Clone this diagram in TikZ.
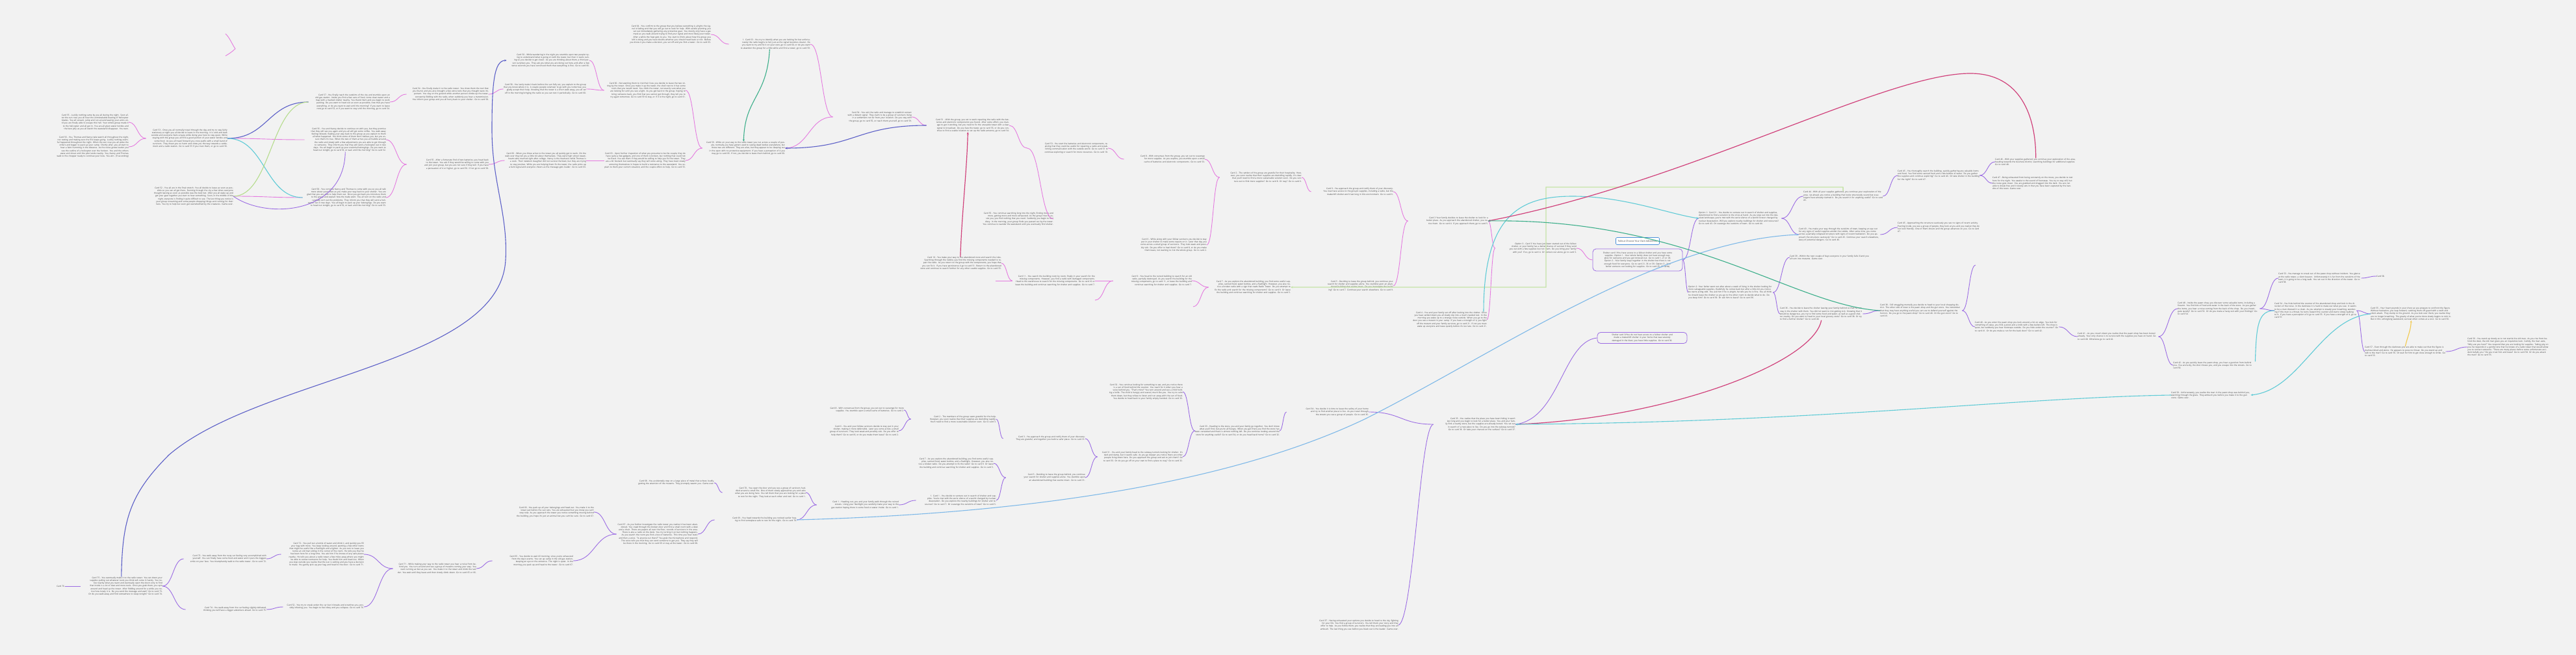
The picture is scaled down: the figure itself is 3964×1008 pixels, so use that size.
\documentclass[tikz,border=0pt]{standalone}
\usepackage{fontspec}
\setmainfont{Open Sans}
\usetikzlibrary{arrows.meta,calc}
\definecolor{bgc}{HTML}{F2F2F2}
\definecolor{txt}{HTML}{404040}
\definecolor{pinkc}{HTML}{E47ADF}
\definecolor{purpc}{HTML}{9B6CE3}
\definecolor{dbluec}{HTML}{5B5FC7}
\definecolor{cyanc}{HTML}{5FCBD6}
\definecolor{lgreenc}{HTML}{B5DC8C}
\definecolor{crimc}{HTML}{D0407A}
\definecolor{tealc}{HTML}{3BAE8A}
\definecolor{lbluec}{HTML}{7DB8E8}
\definecolor{yelc}{HTML}{F2C94C}
\definecolor{grc}{HTML}{C4E3A6}
\definecolor{tbluec}{HTML}{4A90D9}
\newcommand\cf{\fontsize{3.2}{4.2}\selectfont}
\newcommand\mmline[3]{\draw[#1] let \p1=(#2), \p2=(#3), \n1={0.5*(\x2-\x1)} in (\p1) .. controls +(\n1,0) and +(-\n1,0) .. (\p2);}
\tikzset{
  rc/.style={anchor=east, align=right, font=\cf, text=txt, inner sep=0pt, text width=#1},
  lc/.style={anchor=west, align=left, font=\cf, text=txt, inner sep=0pt, text width=#1},
  pk/.style={draw=pinkc, line width=0.9pt},
  pu/.style={draw=purpc, line width=0.9pt},
  db/.style={draw=dbluec, line width=1.1pt},
  cy/.style={draw=cyanc, line width=1.1pt},
  lg/.style={draw=lgreenc, line width=1.1pt},
  crim/.style={draw=crimc, line width=1.2pt},
  teal2/.style={draw=tealc, line width=1.1pt},
  lb/.style={draw=lbluec, line width=1.1pt},
  ye/.style={draw=yelc, line width=1.1pt},
  gr/.style={draw=grc, line width=1.4pt},
  arr/.style={-{Stealth[length=3.5pt,width=3pt]}},
  rarr/.style={{Stealth[length=3.5pt,width=3pt]}-},
  sbox/.style={draw=purpc, line width=0.8pt, rounded corners=5pt, align=center, font=\cf, text=txt, inner sep=0pt, text width=124pt, minimum width=138pt}
}
\begin{document}
\begin{tikzpicture}[x=1pt,y=-1pt]
\fill[bgc] (0,0) rectangle (3964,1008);
\useasboundingbox (0,0) rectangle (3964,1008);

% ---------------- left cluster ----------------
\node[rc=118pt] (L1a) at (198,188) {Card 55 - Luckily nothing came by you all during the night. Soon after the sun rose you all hear the unmistakable beating of helicopter blades. You all scream, jump and run around waving your arms until you are finally able to escape this hell. Your whole group made it to the helicopter and all get in. You are all given water bottles and the best jelly as you all watch the wasteland disappear. You won.};
\node[rc=118pt] (L1a2) at (198,226) {Card 56 - You, Thomas and Nancy take watch all throughout the night, not resting and making sure the fire keeps going. Luckily nothing eventful happened throughout the night. When the sun rose you all woke the others and began to pack up your camp. Shortly after, you all start to hear a faint humming in the distance. As the noise grows louder you see the outline of a helicopter over the horizon. You and the others wave and shout until the pilot lands nearby. You, Nancy and Thomas walk to the chopper ready to continue your lives. You win. (True ending)};
\node[rc=125pt] (C53) at (350,213) {Card 53 - Once you all normally travel through the day and try to stay fairly stationary at night you all decide to leave in the morning. It is cold and dark outside and everyone feels uneasy while doing your best to stay quiet. While staying with the group you all find a good portion of your water bottles and some food. As you all travel forward you cross paths with a small band of survivors. They mean you no harm and show you the way towards a settlement and a radio station. Go to card 55 if you trust them, or go to card 56.};
\node[rc=127pt] (C52) at (359,302) {Card 52 - You all are in the final stretch. You all decide to leave as soon as possible so you can all get there. Running through the city a few times everyone thought leaving as soon as possible was the best bet. After you all wake up and get your gear together you start to hear something. Soon, in the middle of the night, everyone is finding it quite difficult to see. The last thing you notice is your group screaming and some people dropping things and running for their lives. You try to help but soon get overwhelmed by the creatures. Game over.};
\node[rc=125pt] (T1) at (600,157) {Card 57 - You finally reach the outskirts of the city and stumble upon an old gas station. Inside you find a few cans of food, some clean water and a map with a marked shelter nearby. You thank them and you begin to work packing. Do you want to head out as soon as possible, now that you have everything, or do you want to wait until the morning? If you want to leave now go to card 53, or if you want to stay until the morning, go to card 54.};
\node[rc=125pt] (C56) at (594,215) {Card 56 - You and Nancy decide to continue on with you, but they promise that they will see you again and you all will get some coffee. You walk away feeling relieved, making your way back to the group as you explain to them all what happened. You think some of them don't believe you, but you assure them it's true. When the two of them arrive you all huddle around the radio and slowly with a few adjustments you are able to get through to someone. They inform you that they will send a helicopter out in two days. You all begin to pack up your essential belongings. Do you want to head out tonight, go to card 53, or wait until the morning? Go to card 52.};
\node[rc=128pt] (C57) at (594,304) {Card 58 - You convince Nancy and Thomas to come with you so you all talk more about yourselves as you make your way back to your shelter. You are glad that you are able to help them out. Once you get back you introduce them to the group and explain how the trade went. You all turn on the radio and carefully sort out the problems. They inform you that they will send a helicopter out in two days. You all begin to pack up your belongings. Do you want to head out tonight, go to card 52, or wait until the morning? Go to card 53.};
\node[rc=126pt] (C54) at (752,145) {Card 54 - You finally make it to the radio tower. You show them the tool that you found, and you also brought a few extra tools that you thought were important. You stay on the ground while another person climbs up the tower, constantly fiddling with the radio, when suddenly you hear a transmission. You inform your group and you all hurry back to your shelter. Go to card 58.};
\node[rc=126pt] (C55) at (752,253) {Card 55 - After a fortunate find of two batteries, you head back to the tower. You ask if they would be willing to come with you and join your group, but you are not sure if they will. If you have a persuasion of 4 or higher, go to card 56. If not go to card 58.};
\node[rc=127pt] (C50) at (907,93) {Card 50 - While wandering in the night you stumble upon two people trying to understand what is going on with the tower, but then it starts raining so you decide to get closer. As you are thinking about them, a third person surprises you. They ask you what you are doing out here, and after a few tense seconds you have convinced them that everything is fine. Go to card 66.};
\node[rc=127pt] (C58) at (902,137) {Card 58 - You lastly make it back before the sun fully set, you explain to the group that you know where it is. A couple people volunteer to go with you tomorrow, you gladly accept their help. Knowing that the tower is a short walk away, you all set off in the morning bringing the radio so you can test it periodically. Go to card 60.};
\node[rc=125pt] (C66) at (902,247) {Card 66 - When you three arrive to the tower you all quickly get to work. On the walk over they tell you a little bit about themselves. They were high school sweethearts who married right after college. Nancy is the mechanic while Thomas is a cook. Their newborn daughter did not survive the blast, but they are trying to stay positive. While you are helping them fix the tower, the radio picks up a faint signal and everyone cheers as the message gets louder. Go to card 63.};
\node[rc=125pt] (C60) at (1055,139) {Card 60 - Not wanting them to risk their lives you decide to leave the two sitting by the tower. Once you make it up the tower, the shell next to it has some tools that you would need. You climb the tower, not exactly sure what you are looking for until you see a light. As you get back to the group, hoping to bring someone back, you find that you cannot get through, they tell you to try again tomorrow. Go to card 59 to stay, or if it is the night, go to card 61.};
\node[rc=125pt] (C63b) at (1055,247) {Card 63 - Upon further inspection of what you presume to be the couple, they do have quite a few gadgets, and one of them is broken, but nothing that could not be fixed. You ask them if they would be willing to help you fix the tower. They are a bit hesitant but eventually say they will come along. They have been slowly armoring themselves in hopes to build a resistance to the wasteland. You explain to them your current situation, and the couple offers to help. Go to card 55.};
\node[rc=125pt] (C64) at (1094,53) {Card 64 - You confirm to the group that you believe everything is alright, the signal is fading and that you will go out to look for help. With careful planning you set out immediately gathering any protective gear. You mostly only have a gas mask as you walk around trying to find your signal and most likely your tower. After a while the heat gets to you. You start to think about how the group you left is doing and you have doubts whether you should head back or not. Before you know it you make a decision, you set off and you find a tower. Go to card 63.};
\node[rc=125pt] (C63) at (1247,68) {1. Card 63 - You try to identify what you are looking for but unfortunately the radio begins to fail, just as the signal becomes clearer. Do you want to try and fix it on your own, go to card 60, or do you want to abandon the group for a little while and find a tower, go to card 59.};
\node[rc=127pt] (C59) at (1208,228) {Card 59 - While on your way to the radio tower you run across a couple of people, normally you have gotten used to seeing dead bodies everywhere, but these two are different. They are alive, but they appear to be sleeping out in the open with no protective equipment. If you have a perception of 4 you may go to card 66. If not, you decide to leave them behind, go to card 60.};
\node[rc=121pt] (G) at (1403,180) {Card 54 - You exit the radio and manage to establish contact with a distant signal. They claim to be a group of survivors living in a settlement not far from your location. Do you stay with the group, go to card 55, or reach them yourself, go to card 59.};
\node[rc=127pt] (C51) at (1553,193) {Card 51 - With the group, you set to work repairing the radio with the batteries and electronic components you found. After some effort, you manage to get it working, but you need to fix the unusable tower with a clear signal to broadcast. Do you face the tower, go to card 55, or do you continue to find a usable location to set up the radio antenna, go to card 54.};
\node[rc=126pt] (C55c) at (1621,337) {Card 55 - You continue searching long into the night, finding more and more, getting more and more exhausted. As the group tries to assist you, you find nothing that you need. Suddenly you begin to feel dizzy. In the morning, your group finds you passed out by the tower. You continue to wander the wasteland until you eventually find shelter.};
\node[rc=126pt] (C10) at (1541,405) {Card 10 - You make your way to the abandoned store and search the isles. Searching through the rubble, you find the missing components needed to repair the radio. As you return to the group with the components, you hope that you can fix it. If you have persistence 4 go to card 51. Return to the abandoned store and continue to search further for any other usable supplies. Go to card 55.};
\node[rc=124pt] (C53w) at (1705,228) {Card 53 - You start the batteries and electronic components, realizing that they could be useful for repairing a radio and establishing communication with the outside world. Go to card 51 to continue exploring or search for more resources. Go to card 10.};
\node[rc=124pt] (C8x) at (1854,245) {Card 8 - With consensus from the group, you set out to scavenge for more supplies. As you explore, you stumble upon a small cache of batteries and electronic components. Go to card 53.};
\node[rc=122pt] (C6y) at (1857,377) {Card 6 - While along with your fellow survivors you decide to stay put in your shelter to make some repairs on it. Later that day you come across a small group of survivors. They look weak and possibly sick. Do you offer to heal them? Go to card 8, or do you make them leave, not wanting to risk the whole group. Go to card 2.};
\node[rc=126pt] (C2z) at (2003,273) {Card 2 - The settlers of the group are grateful for their hospitality. However, you soon realize that their supplies are dwindling rapidly. It's clear that you'll need to find a more sustainable solution soon. Do you venture out to find more supplies? Go to card 8. Or stay? Go to card 6.};
\node[rc=126pt] (C9aa) at (2144,295) {Card 9 - You approach the group and notify them of your discovery. You now have access to the group's supplies, including a radio, but the makeshift shelter won't last long in this environment. Go to card 6.};
\node[rc=122pt] (C5bb) at (2144,440) {Card 5 - Deciding to leave the group behind, you continue your search for shelter and supplies alone. You stumble upon an abandoned building that seems intact. Do you investigate the building? Go to card 7. Continue your search elsewhere. Go to card 9.};
\node[rc=127pt] (C11) at (1685,432) {Card 11 - You search the building room by room, finally in your search for the missing components. However, you find a radio with damaged components. Head to the warehouse to search for the missing components. Go to card 10 or leave the building and continue searching for shelter and supplies. Go to card 7.};
\node[rc=121pt] (C12) at (1834,432) {Card 9 - You head to the ruined building to search for an old radio, partially destroyed. As you search the building for the missing components, go to card 11, or leave the building and continue searching for shelter and supplies. Go to card 7.};
\node[rc=126pt] (C7) at (1986,442) {Card 7 - As you explore the abandoned building, you find some useful supplies, canned food, water bottles, and a flashlight. However, you also notice a broken radio with a sign that reads Radio Tower. Do you attempt to fix the radio and search for the missing components? Go to card 9. Or leave the building and continue searching for shelter and supplies. Go to card 5.};
\node[rc=123pt] (cc) at (2290,340) {Card 3 Your family decides to leave the shelter to look for a better place. As you approach the abandoned shelter, you notice them. Go to card 4. If you approach them, go to card 5.};

% ---------------- centre ----------------
\node[draw=tbluec, line width=0.6pt, rounded corners=1.5pt, fill=white, font=\fontsize{3.6}{4.4}\selectfont, text=txt, minimum width=67pt, minimum height=11pt, inner sep=1pt] (TT) at (2520,371) {Fallout Choose Your Own Adventure};
\node[sbox, minimum height=34pt] (S1) at (2520,400) {Shelter card 1/You have access to a fallout shelter and you have some supplies. Option 1 - Your whole family does not have enough supplies for everyone and you get stressed out. Go to card 1, 21 or 43. Option 2 - Your family stays together in the shelter but there is not enough food for everyone. Go to card 21, 36 or 39. Option 3 - Your father ventures out looking for supplies. Go to card 25. (5 cards)};
\node[sbox, minimum height=17pt] (S3) at (2527,520) {Shelter card 3/You do not have access to a fallout shelter and made a makeshift shelter in your home that was severely damaged in the blast, you have little supplies. Go to card 30.};
\node[rc=125pt] (Opt3) at (2426,382) {Option 3 - Card 3 You have just been started out of the fallout shelter, or your family has a better chance of survival if they send you out with a few supplies but not them. Do you bring your family with you? If so, go to card 4. Or venture out alone, go to card 3.};
\node[rc=128pt] (C4) at (2288,492) {Card 4 - You and your family set off after looking into the shelter. Once you have settled down you all slowly slip into a much needed rest. In the morning you wake up to a strange noise outside. When you go to the door you see a mutant in your camp. If you have a strength of 4, you fight off the mutant and your family survives, go to card 21. If not you must wake up everyone and leave quietly before it's too late. Go to card 21.};
\node[lc=127pt] (Opt1) at (2614,336) {Option 1: Card 21 - You decide to venture out in search of shelter and supplies, determined to find a solution to the crisis at hand. As you step out into the desolate landscape, you're met with the eerie silence of a world forever changed by nuclear devastation. Will you explore nearby buildings for shelter and resources? Go to card 43. Or scavenge the outskirts of town. Go to card 44.};
\node[lc=130pt] (Opt2) at (2598,450) {Option 2: Your father went out after about a week of living in the shelter looking for more salvageable supplies, thankfully he comes back but after a little bit you notice he starts acting odd. You ask him if he is alright, he tells you he is fine. You all think he should leave the shelter so you go to the other room to decide what to do. Do you keep him? Go to card 39. Or ask him to leave? Go to card 36.};
\node[lc=122pt] (P1) at (2775,302) {Card 44 - With all your supplies gathered, you continue your exploration of the area. Up ahead, you notice a building that looks structurally sound but scavengers have already claimed it. Do you search it for anything useful? Go to card 45.};
\node[lc=125pt] (C43) at (2768,361) {Card 43 - You make your way through the outskirts of town, keeping an eye out for any signs of useful supplies amidst the rubble. After some time, you come across a partially collapsed structure with signs of recent habitation. Do you approach the structure cautiously? Go to card 45. Continue your search elsewhere, wary of potential dangers. Go to card 46.};
\node[lc=126pt] (C39) at (2754,396) {Card 39 - Within the next couple of days everyone in your family falls ill and you all turn into mutants. Game over.};
\node[lc=127pt] (C36) at (2739,483) {Card 36 - You decide to leave the shelter leaving your family behind so that he can stay in the shelter with them. You did not want to risk getting sick. Knowing that it would be dangerous, you try to find some food and water, as well as a good shelter nearby. Do you want to head to your local grocery store? Go to card 38. Or try to find a further shelter? Go to card 40.};
\node[lc=126pt] (C38) at (2893,478) {Card 38 - Still struggling mentally you decide to head to your local shopping district. The other side of town is the pawn shop and the gun store. You remember that they may have anything useful you can use to defend yourself against the horrors. Do you go to the pawn shop? Go to card 40. Or the gun store? Go to card 41.};
\node[lc=126pt] (C45a) at (2920,270) {Card 45 - You thoroughly search the building, quickly gathering any valuable items and food. You find some canned food and a few bottles of water. Do you gather the supplies and continue exploring? Go to card 46. Or take shelter in the building for the night? Go to card 47.};
\node[lc=126pt] (C45b) at (2920,350) {Card 45 - Approaching the structure cautiously you see no signs of recent activity. Peering inside, you see a group of people, they look at you and you realize they do not look friendly. One of them shouts and the group advances on you. Go to card 47.};
\node[lc=125pt] (C46) at (3070,249) {Card 46 - With your supplies gathered, you continue your exploration of the area, heading towards the business district, searching buildings for additional supplies. Go to card 48.};
\node[lc=126pt] (C47) at (3066,282) {Card 47 - Being exhausted from being constantly on the move, you decide to rest here for the night. You awake to the sound of footsteps. You try to stay still, but the noise gets closer. You are grabbed and dragged into the dark. You are not able to break free and it slowly sets in that you have been captured by the bandits of this town. Game over.};
\node[lc=129pt] (C40) at (3039,503) {Card 40 - As you enter the pawn shop you look around, a bit on edge. You look for something of value, you find a pistol and a knife with a few bullets left. The shop is quiet, but suddenly you hear footsteps outside. Do you hide under the counter? Go to card 41. Or do you make a run for the back door? Go to card 42.};
\node[lc=124pt] (C41) at (3197,518) {Card 41 - As you crouch down you realize that the pawn shop has been looted already. Your only chance is to survive with the supplies you have on hand. Go to card 48. Otherwise go to card 42.};
\node[lc=126pt] (C48) at (3351,475) {Card 48 - Inside the pawn shop, you discover some valuable items, including a firearm. You find bits of food and water in the back of the store. As you gather the items, you hear a noise coming from the back of the shop. Do you investigate quietly? Go to card 53. Or do you make a hasty exit with your findings? Go to card 54.};
\node[lc=126pt] (C42) at (3344,562) {Card 42 - As you quickly leave the pawn shop, you hear a gunshot from behind you. You are lucky, the shot misses you, and you escape into the streets. Go to card 50.};
\node[lc=127pt] (C53r) at (3506,428) {Card 53 - You manage to sneak out of the pawn shop without incident. You glance at the radio tower, a silent beacon. Unfortunately it is far from the outskirts of the town, it is going to be a long walk. You set out in the direction of the tower. Go to card 58.};
\node[anchor=west, font=\cf, text=txt, inner sep=0pt] (C58r) at (3657,425) {Card 58.};
\node[lc=126pt] (C54r) at (3500,478) {Card 54 - You hide behind the counter of the abandoned shop and look in the direction of the noise. In the darkness it is hard to make out what you see. It seems to be a man dressed in a cloak. As you attempt to steady your breathing, wondering if this man is a threat, he turns toward the counter and starts slowly walking to it. If you have a perception of 4 go to card 55. If you have a strength of 4, go to card 57.};
\node[lc=124pt] (C55r) at (3648,483) {Card 55 - Your heart pounds in your chest as you prepare to confront the figure. Without hesitation, you leap forward, catching them off guard with a swift and silent attack. They slump to the ground. As you look over them, you realize they are no longer breathing. The gravity of what you've done slowly begins to sink in. But in this unforgiving wasteland, survival often comes at a cost. Go to card 56.};
\node[lc=124pt] (C57r) at (3639,541) {Card 57 - Even through the darkness you are able to make out that the figure is malnourished and alone. He appears to pose no threat. Do you stand up and talk to the man? Go to card 56. Or wait for him to get close enough to strike. Go to card 55.};
\node[lc=126pt] (C56r) at (3797,534) {Card 56 - You stand up slowly as to not startle the old man. As you rise from behind the desk, the old man gives you an inquisitive look. Calmly, the man asks, "Why are you here?" You respond that you are looking for supplies. Taking pity on you he responds in a gentle tone that he knows of a radio tower that would allow you to contact someone. "There are many places before some unfortunate accident befalls you." Do you trust him and leave? Go to card 58. Or do you attack the man? Go to card 55.};
\node[lc=122pt] (C50r) at (3341,608) {Card 50 - Unfortunately, you realize the man in the pawn shop was behind you, watching through the glass. They ambush you before you make it to the gun store. Game over.};

% ---------------- lower chain ----------------
\node[rc=126pt] (C35) at (2332,653) {Card 35 - You realize that the place you have been hiding in won't last long and you begin to look for a better place. You and your family find a nearby store, but the supplies are already looted. You set out in search of a new place to live. Do you go into the subway tunnels? Go to card 36. Or take your chances on the surface? Go to card 37.};
\node[rc=126pt] (C37) at (2152,962) {Card 37 - Having exhausted your options you decide to head to the city, fighting for your life. You find a group of survivors. You tell them your story and they offer to help. As you follow them, you realize that they are leading you into an ambush. The last thing you see before you black out is the leader. Game over.};
\node[rc=126pt] (NY) at (2106,634) {Card 34 - You decide it is time to leave the safety of your home and try to find another place to live. As you travel through the streets you see a group of people. Go to card 35.};
\node[rc=130pt] (NX) at (1969,663) {Card 33 - Heading to the store, you and your family go together. You don't know what you'll find, but you're all hungry. When you get there you find the store has been ransacked and there is almost nothing left. Do you continue looking around the store for anything useful? Go to card 34, or do you head back home? Go to card 32.};
\node[rc=131pt] (NW) at (1820,603) {Card 32 - You continue looking for something to eat, and you notice there is a can of food behind the counter. You reach for it when you hear a voice behind you. "That's mine!" You turn around and see a child holding a knife. The child is hungry and scared, much like you. You try to calm them down, but they refuse to listen and run away with the can of food. You decide to head back to your family empty handed. Go to card 33.};
\node[rc=131pt] (NV) at (1820,703) {Card 31 - You and your family head to the subway tunnels looking for shelter. It's dark and damp, but it seems safe. As you go deeper you notice there are other people living down here. Do you approach the group and ask to join them? Go to card 33. Or do you go off on your own to find a place to stay? Go to card 32.};
\node[rc=126pt] (NU) at (1670,675) {Card 3 - You approach the group and notify them of your discovery. They are grateful, and together you build a safer place. Go to card 31.};
\node[rc=122pt] (NQ) at (1670,735) {Card 5 - Deciding to leave the group behind, you continue your search for shelter and supplies alone. You stumble upon an abandoned building that seems intact. Go to card 31.};
\node[rc=131pt] (NT) at (1533,645) {Card 2 - The members of the group seem grateful for the help. However, you soon realize that their supplies are dwindling rapidly. You'll need to find a more sustainable solution soon. Go to card 3.};
\node[rc=126pt] (NR) at (1391,631) {Card 8 - With consensus from the group, you set out to scavenge for more supplies. You stumble upon a small cache of batteries. Go to card 2.};
\node[rc=126pt] (NS) at (1383,663) {Card 6 - You and your fellow survivors decide to stay put in your shelter, making it more defensible. Later you come across a small group of survivors. They look weak and possibly sick. Do you offer to help them? Go to card 8, or do you make them leave? Go to card 2.};
\node[rc=127pt] (NP) at (1529,713) {Card 7 - As you explore the abandoned building, you find some useful supplies, canned food, water bottles, and a flashlight. However, you also notice a broken radio. Do you attempt to fix the radio? Go to card 9. Or leave the building and continue searching for shelter and supplies. Go to card 5.};
\node[rc=123pt] (NO) at (1533,770) {1. Card 1 - You decide to venture out in search of shelter and supplies. You're met with the eerie silence of a world changed by nuclear devastation. Do you explore the nearby buildings for shelter and resources? Go to card 7. Or scavenge the outskirts of town? Go to card 5.};
\node[rc=126pt] (NN) at (1383,777) {Card 1 - Heading out, you and your family walk through the ruined streets. Using your flashlight you carefully make your way to the gas station hoping there is some food or water inside. Go to card 1.};
\node[rc=128pt] (NB) at (1240,758) {Card 70 - You open the door and you see a group of survivors huddled around a small fire. One of them slowly approaches you and asks what you are doing here. You tell them that you are looking for a place to rest for the night. They look at each other and nod. Go to card 1.};
\node[rc=126pt] (NC) at (1226,800) {Card 69 - You head towards the building you noticed earlier hoping to find someplace safe to rest for the night. Go to card 70.};
\node[rc=124pt] (NA) at (1099,743) {Card 68 - You accidentally step on a large piece of metal that echoes loudly, getting the attention of the mutants. They promptly swarm you. Game over.};
\node[rc=125pt] (ND) at (1074,822) {Card 67 - As you further investigate the radio tower you realize it has been abandoned. You crawl through the broken door and find a small room with a desk and a chair. There are papers all over the floor, records of survivors in the area. There is also a radio on the desk. You try turning it on but nothing happens. As you search the room you find a box of batteries. This time you hear static and then a voice. "Is anyone out there?" You grab the microphone and respond. The voice tells you that they can send someone to get you. They say they will be there in the morning. Go to card 69 or stay at the tower. Go to card 68.};
\node[rc=124pt] (NE) at (914,788) {Card 66 - You pack up all your belongings and head out. You make it to the tower just before the sun sets. You are exhausted but you know you can't stop now. As you approach the tower you notice something moving behind the building, you hope it's just an animal but you can't be sure. Go to card 67.};
\node[rc=124pt] (NF) at (882,863) {Card 65 - You decide to wait till morning, since you're exhausted from the day's events. You set up camp in the old gas station, keeping an eye on the entrance. The night is quiet. In the morning you pack up and head to the tower. Go to card 67.};
\node[rc=128pt] (NG) at (733,875) {Card 71 - While making your way to the radio tower you hear a noise from behind you. You turn around and see a group of mutants coming your way. You start running as fast as you can. You make it to the tower and climb the ladder. You wait until they leave and then slowly climb down. Go to card 65 or 66.};
\node[rc=127pt] (NH) at (560,853) {Card 72 - You pull out a bottle of water and drink it, and quickly you fill your bag with more. You keep looking around, spotting a few other items that might be useful like a flashlight and a lighter. As you turn to leave you notice an old man sitting in the corner of the room. He tells you that he has been here for a long time. You ask him if he knows of any safe places nearby. He tells you about a radio tower a few miles away where you might be able to contact someone for help. You thank him and head out. When you step outside you realize that the sun is setting and you have a decision to make. You gently pick up your bag and head to the door. Go to card 71.};
\node[rc=124pt] (NI) at (560,934) {Card 52 - You try to sneak under the car but it breaks and scratches you, possibly infecting you. You begin to feel dizzy and you collapse. Go to card 76.};
\node[rc=127pt] (NJ) at (410,860) {Card 73 - You walk away from the rusty car feeling very accomplished with yourself. You can finally have some food and water and it puts the biggest smile on your face. You triumphantly walk to the radio tower. Go to card 72.};
\node[rc=124pt] (NK) at (410,938) {Card 74 - You walk away from the car feeling slightly defeated, thinking you will have a bigger adventure ahead. Go to card 75.};
\node[rc=126pt] (NL) at (250,902) {Card 75 - You eventually make it to the radio tower. You set down your supplies pulling out whatever tools you think will come in handy. You notice nearby what you want and eventually open the doors only to find that inside is a lot of dust and more tools. Once you grab them, you spin around and head up the tower. After fiddling around for a while you notice how lonely it is. Do you send the message and wait? Go to card 73. Or do you walk away and find somewhere to sleep tonight? Go to card 74.};
\node[anchor=east, font=\cf, text=txt, inner sep=0pt] (NM) at (100,902) {Card 76.};

% dangling ends
\coordinate (d1) at (1532,432);
\coordinate (d2) at (1685,462);
\coordinate (d3) at (1836,472);
\coordinate (d4) at (3040,408);
\coordinate (tb1) at (347,52);
\coordinate (tb2) at (362,75);
\coordinate (tb3) at (347,86);
\draw[pk] (tb1) .. controls (353,57) and (357,68) .. (tb2) .. controls (357,80) and (352,83) .. (tb3);

% ---------------- connectors: pink ----------------
\mmline{pk}{C53.west}{L1a.east}
\mmline{pk}{C53.west}{L1a2.east}
\mmline{pk}{C53.east}{C56.west}
\mmline{pk}{C52.east}{C57.west}
\mmline{pk}{T1.east}{C54.west}
\mmline{pk}{C55.west}{C56.east}
\mmline{pk}{C55.west}{C57.east}
\mmline{pk}{C54.east}{C58.west}
\mmline{pk}{C55.east}{C66.west}
\mmline{pk}{C60.west}{C50.east}
\mmline{pk}{C60.west}{C58.east}
\mmline{pk}{C59.west}{C60.east}
\mmline{pk}{C59.west}{C63b.east}
\mmline{pk}{C66.east}{C63b.west}
\mmline{pk}{C64.east}{C63.west}
\mmline{pk}{G.west}{C63.east}
\mmline{pk}{G.west}{C59.east}
\mmline{pk}{G.east}{C51.west}
\mmline{pk}{C53w.west}{C51.east}
\mmline{pk}{C53w.west}{C55c.east}
\mmline{pk}{C53w.east}{C8x.west}
\mmline{pk}{C2z.west}{C8x.east}
\mmline{pk}{C2z.west}{C6y.east}
\mmline{pk}{C2z.east}{C9aa.west}
\mmline{pk}{cc.west}{C9aa.east}
\mmline{pk}{cc.west}{C5bb.east}
\mmline{pk}{C11.west}{C10.east}
\mmline{pk}{C11.west}{d1}
\mmline{pk}{C12.west}{C11.east}
\mmline{pk}{C12.west}{d2}
\mmline{pk}{C7.west}{C12.east}
\mmline{pk}{C7.west}{d3}
\mmline{pk}{S1.west}{Opt3.east}
\mmline{pk}{Opt3.west}{cc.east}
\mmline{pk}{Opt3.west}{C4.east}

% ---------------- connectors: purple ----------------
\mmline{pu}{S1.east}{Opt1.west}
\mmline{pu}{S1.east}{Opt2.west}
\mmline{pu}{Opt1.east}{P1.west}
\mmline{pu}{Opt1.east}{C43.west}
\mmline{pu}{Opt2.east}{C39.west}
\mmline{pu}{Opt2.east}{C36.west}
\mmline{pu}{C36.east}{C38.west}
\mmline{pu}{P1.east}{C45a.west}
\mmline{pu}{C43.east}{C45b.west}
\mmline{pu}{C45a.east}{C46.west}
\mmline{pu}{C45a.east}{C47.west}
\mmline{pu}{C38.east}{d4}
\mmline{pu}{C38.east}{C40.west}
\mmline{pu}{C40.east}{C41.west}
\mmline{pu}{C41.east}{C48.west}
\mmline{pu}{C41.east}{C42.west}
\mmline{pu}{C48.east}{C53r.west}
\mmline{pu}{C48.east}{C54r.west}
\mmline{pu}{C53r.east}{C58r.west}
\mmline{pu}{C54r.east}{C55r.west}
\mmline{pu}{C54r.east}{C57r.west}
\mmline{pu}{C57r.east}{C56r.west}
\mmline{pu}{NL.west}{NM.east}
\mmline{pu}{NL.east}{NJ.west}
\mmline{pu}{NL.east}{NK.west}
\mmline{pu}{NJ.east}{NH.west}
\mmline{pu}{NK.east}{NI.west}
\mmline{pu}{NG.west}{NH.east}
\mmline{pu}{NG.west}{NI.east}
\mmline{pu}{NG.east}{NF.west}
\mmline{pu}{ND.west}{NF.east}
\mmline{pu}{ND.west}{NE.east}
\mmline{pu}{ND.east}{NC.west}
\mmline{pu}{NA.east}{NB.west}
\mmline{pu}{NN.west}{NB.east}
\mmline{pu}{NN.west}{NC.east}
\mmline{pu}{NN.east}{NO.west}
\mmline{pu}{NQ.west}{NP.east}
\mmline{pu}{NQ.west}{NO.east}
\mmline{pu}{NT.west}{NR.east}
\mmline{pu}{NT.west}{NS.east}
\mmline{pu}{NT.east}{NU.west}
\mmline{pu}{NV.west}{NU.east}
\mmline{pu}{NV.west}{NQ.east}
\mmline{pu}{NX.west}{NW.east}
\mmline{pu}{NX.west}{NV.east}
\mmline{pu}{NX.east}{NY.west}
\mmline{pu}{NY.east}{C35.west}

% ---------------- special connectors ----------------
\mmline{db}{C53.east}{T1.west}
\mmline{cy}{C53.east}{C57.west}
\mmline{lg}{C52.east}{T1.west}
\draw[pu] (C52.east) .. controls (410,338) and (530,330) .. (C56.south);
\draw[db,arr] (NL.north) .. controls (188,800) and (200,760) .. (260,700) .. controls (400,580) and (770,560) .. (778,400) .. controls (782,330) and (757,280) .. (757,200) .. controls (757,130) and (760,93) .. (C50.west);
\mmline{db,arr}{C51.west}{C59.east}
\draw[crim,arr] (C10.north) .. controls (1480,330) and (1488,260) .. (C51.south);
\draw[teal2,arr] (C63.south) .. controls (1180,150) and (1146,150) .. (C59.north);
\draw[gr,rarr] (C7.east) -- (2379,442) -- (2379,288) -- (2836,288) -- (P1.north);
\draw[cy,arr] ($(C4.north east)+(-5,0)$) .. controls (2283,330) and (2340,302) .. (2420,302) .. controls (2500,302) and (2570,330) .. (Opt1.west);
\draw[lb,arr] (NC.east) .. controls (1600,790) and (1900,740) .. (2100,645) .. controls (2300,545) and (2550,370) .. (C43.west);
\draw[crim,rarr] (cc.east) .. controls (2600,280) and (2900,113) .. (3032,113) .. controls (3110,113) and (3133,180) .. (C46.north);
\draw[teal2] (cc.east) .. controls (2600,335) and (2760,470) .. (C38.west);
\draw[crim] (C35.east) .. controls (2560,645) and (2790,560) .. (C36.south);
\draw[pu] (C35.east) .. controls (2400,645) and (2405,525) .. (S3.west);
\draw[cy,rarr] (C35.east) .. controls (2800,650) and (3100,612) .. (C50r.west);
\draw[pu] (C35.west) .. controls (2185,655) and (2175,955) .. (C37.east);
\draw[cy] (C42.north east) .. controls (3472,500) and (3475,478) .. (C54r.west);
\draw[cy,arr] (C55r.west) .. controls (3570,490) and (3540,600) .. (C50r.east);
\draw[ye,arr] (C57r.north) .. controls (3704,520) and (3710,508) .. (C55r.south);
\draw[tbluec, line width=1.2pt] ([xshift=1.5pt]TT.south west) -- ([xshift=-1.5pt]TT.south east);
\end{tikzpicture}
\end{document}
